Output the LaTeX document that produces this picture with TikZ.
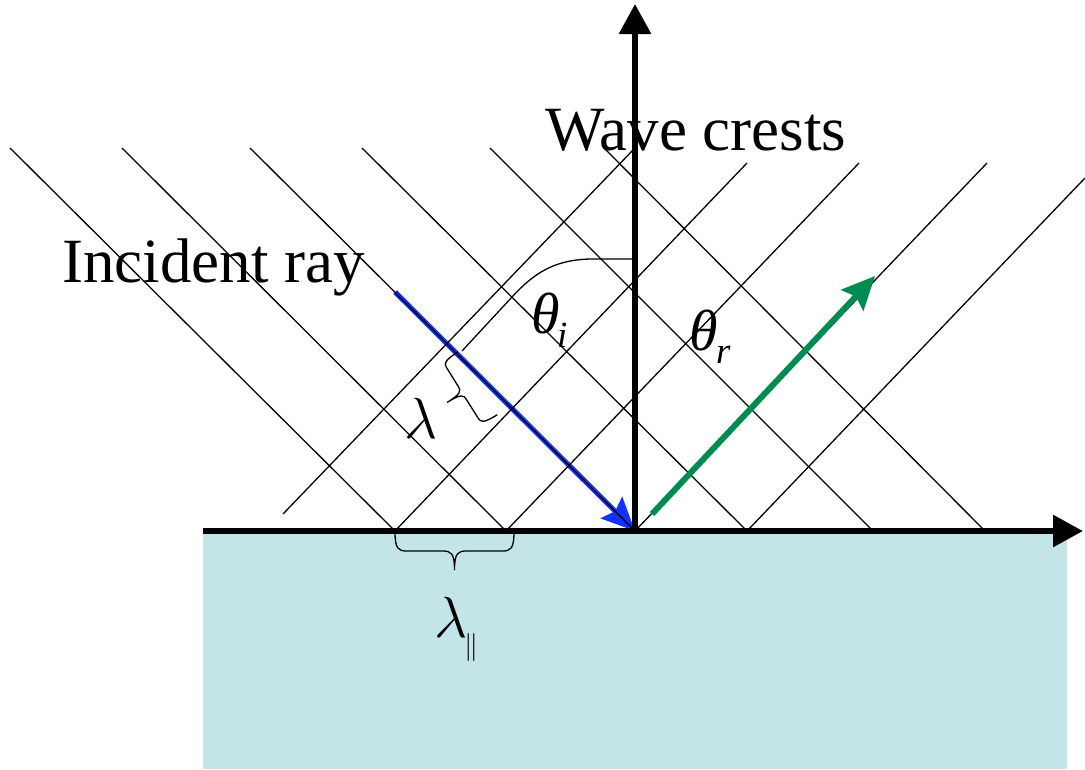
\documentclass[tikz,border=0pt]{standalone}
\usepackage{fix-cm}
\usepackage{fontspec}
\setmainfont{Liberation Serif}
\usetikzlibrary{arrows.meta}
\definecolor{sea}{RGB}{196,229,232}
\definecolor{rayblue}{RGB}{20,50,255}
\definecolor{raygreen}{RGB}{0,140,80}
\newcommand{\bracecurve}[2]{%
  \draw[bracestyle] (0,0) .. controls (0,{0.45*#2}) and ({0.03*#1},{0.5*#2}) .. ({0.1*#1},{0.5*#2})
    -- ({0.4*#1},{0.5*#2}) .. controls ({0.47*#1},{0.5*#2}) and ({0.5*#1},{0.55*#2}) .. ({0.5*#1},#2)
    .. controls ({0.5*#1},{0.55*#2}) and ({0.53*#1},{0.5*#2}) .. ({0.6*#1},{0.5*#2})
    -- ({0.9*#1},{0.5*#2}) .. controls ({0.97*#1},{0.5*#2}) and (#1,{0.45*#2}) .. (#1,0);}
\begin{document}
\begin{tikzpicture}[x=1pt,y=-1pt,
  crest/.style={line width=1.3pt},
  bracestyle/.style={line width=1.3pt},
  axisline/.style={line width=6pt, -{Triangle[length=30pt,width=31pt]}},
  raytip/.style={-{Stealth[length=33pt,width=30pt,inset=5pt]}},
  lbl/.style={inner sep=0pt, anchor=base west, font=\fontsize{63}{70}\selectfont},
  sym/.style={inner sep=0pt, anchor=base west, font=\fontsize{58}{64}\selectfont\itshape},
  sub/.style={inner sep=0pt, anchor=base west, font=\fontsize{37}{40}\selectfont\itshape}]
\useasboundingbox (0,0) rectangle (1085,769);
\fill[sea] (203,531) rectangle (1067,769);
\coordinate (O) at (635,531);
\coordinate (bs) at (395,292);
\coordinate (gs) at (652,514);
\coordinate (ge) at (875,276);
\coordinate (xl) at (203,531);
\coordinate (xr) at (1083,531);
\coordinate (yt) at (635,4);
% incident ray
\draw[rayblue, line width=5pt, raytip] (bs) -- (O);
% wave crests
\foreach \a/\b in {10/395,122/506,250/635,362/747,490/873,604/985}
  \draw[crest] (\a,148) -- (\b,531);
\draw[crest] (283,514) -- (633,150);
\foreach \a/\b in {395/747,506/859,635/987}
  \draw[crest] (\a,531) -- (\b,163);
\draw[crest] (747,531) -- (1085,178);
% angle curve
\draw[bracestyle] (633,259) -- (590,259) .. controls (555,260) and (535,272) .. (512,297) -- (462,351);
% braces
\begin{scope}[shift={(395,532)}]
  \bracecurve{119}{38}
\end{scope}
\begin{scope}[shift={(458,352)}, rotate=-58]
  \bracecurve{74}{36}
\end{scope}
% reflected ray
\draw[raygreen, line width=6pt, raytip] (gs) -- (ge);
% axes
\draw[axisline] (xl) -- (xr);
\draw[axisline] (O) -- (yt);
% labels
\node[lbl] (inc) at (62,282) {Incident ray};
\node[lbl] (wav) at (545,150) {Wave crests};
\node[sym] (thi) at (531,333) {θ};
\node[sub] (thisub) at (557,347) {i};
\node[sym] (thr) at (689,350) {θ};
\node[sub] (thrsub) at (716,363) {r};
\node[inner sep=0pt, anchor=base west, font=\fontsize{58}{64}\selectfont] (lam) at (404,438) {$\lambda$};
\node[inner sep=0pt, anchor=base west, font=\fontsize{58}{64}\selectfont] (lampar) at (434,637) {$\lambda$};
\node[inner sep=0pt, anchor=base west, font=\fontsize{28}{32}\selectfont] (par) at (464,654) {$\|$};
\end{tikzpicture}
\end{document}
